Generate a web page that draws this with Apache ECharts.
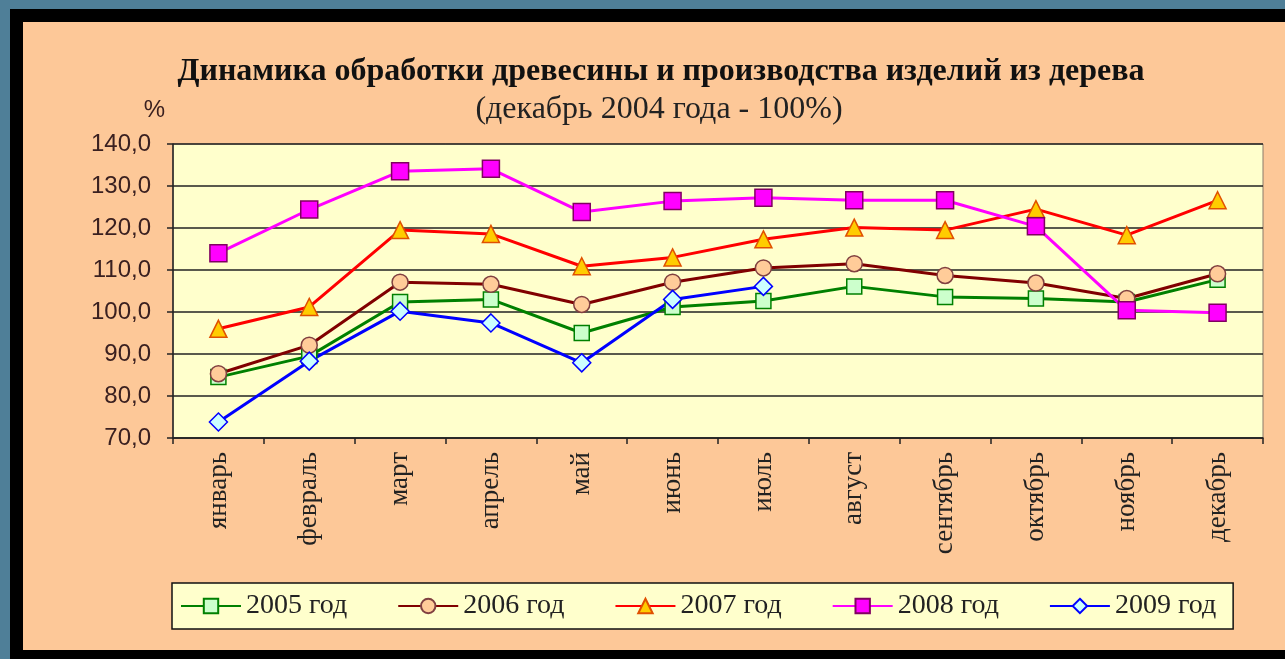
<!DOCTYPE html>
<html>
<head>
<meta charset="utf-8">
<script src="https://cdn.jsdelivr.net/npm/echarts@6/dist/echarts.min.js"></script>
<style>
  html, body { margin: 0; padding: 0; width: 1285px; height: 659px; overflow: hidden; background: #4f7f98; }
  #frame { position: absolute; left: 10px; top: 9px; width: 1275px; height: 650px; background: #000; }
  #panel { position: absolute; left: 23px; top: 22px; width: 1262px; height: 628px; background: #fdc898; }
  #chart { position: absolute; left: 0; top: 0; width: 1285px; height: 659px; }
</style>
</head>
<body>
<div id="frame"></div>
<div id="panel"></div>
<div id="chart"></div>
<script>
const titleText = 'Динамика обработки древесины и производства изделий из дерева';
const subtitleText = '(декабрь 2004 года - 100%)';
const yUnit = '%';
const months = ['январь', 'февраль', 'март', 'апрель', 'май', 'июнь', 'июль', 'август', 'сентябрь', 'октябрь', 'ноябрь', 'декабрь'];
const yTickLabels = ['70,0', '80,0', '90,0', '100,0', '110,0', '120,0', '130,0', '140,0'];
const seriesNames = ['2005 год', '2006 год', '2007 год', '2008 год', '2009 год'];
const y2005 = [84.5, 89.5, 102.4, 103.0, 95.0, 101.2, 102.6, 106.1, 103.6, 103.2, 102.4, 107.7];
const y2006 = [85.3, 92.1, 107.1, 106.6, 101.8, 107.1, 110.5, 111.5, 108.7, 106.9, 103.2, 109.1];
const y2007 = [96.0, 101.2, 119.5, 118.6, 110.9, 113.0, 117.3, 120.1, 119.5, 124.5, 118.3, 126.6];
const y2008 = [114.0, 124.4, 133.5, 134.1, 123.8, 126.4, 127.2, 126.6, 126.6, 120.4, 100.4, 99.8];
const y2009 = [73.8, 88.3, 100.2, 97.4, 87.9, 103.0, 106.1, null, null, null, null, null];

const serif = '"Liberation Serif", "DejaVu Serif", serif';
const sans = '"Liberation Sans", "DejaVu Sans", sans-serif';

function mkSeries(name, data, lineColor, symbol, size, fill, border) {
  return {
    name: name, type: 'line', data: data,
    symbol: symbol, symbolSize: size, showAllSymbol: true,
    lineStyle: { color: lineColor, width: 3 },
    itemStyle: { color: fill, borderColor: border, borderWidth: 1.5 },
    emphasis: { disabled: true },
    animation: false
  };
}

const chart = echarts.init(document.getElementById('chart'), null, { renderer: 'canvas' });
chart.setOption({
  backgroundColor: 'transparent',
  animation: false,
  title: [
    { text: titleText, left: 656, top: 51, textAlign: 'center',
      textStyle: { fontFamily: serif, fontWeight: 'bold', fontSize: 32, color: '#111' } },
    { text: subtitleText, left: 654, top: 89, textAlign: 'center',
      textStyle: { fontFamily: serif, fontWeight: 'normal', fontSize: 32, color: '#222' } }
  ],
  grid: { left: 173, right: 22, top: 144, bottom: 221, show: true, backgroundColor: '#ffffcc', borderColor: '#8a7a6a', borderWidth: 1 },
  legend: {
    left: 172, top: 583,
    backgroundColor: '#ffffcc', borderColor: '#111', borderWidth: 1.5,
    padding: [9, 17, 9, 8],
    itemWidth: 60, itemHeight: 18, itemGap: 50,
    textStyle: { fontFamily: serif, fontSize: 28, color: '#222' },
    data: seriesNames
  },
  xAxis: {
    type: 'category', data: months, boundaryGap: true,
    axisLine: { lineStyle: { color: '#222', width: 1.5 } },
    axisTick: { show: true, length: 6, lineStyle: { color: '#222', width: 1.5 } },
    axisLabel: { rotate: 90, margin: 14, fontFamily: serif, fontSize: 27, color: '#222', interval: 0 },
    splitLine: { show: false }
  },
  yAxis: {
    type: 'value', min: 70, max: 140, interval: 10,
    name: yUnit, nameLocation: 'end', nameGap: 22,
    nameTextStyle: { fontFamily: sans, fontSize: 24, color: '#3a2020', align: 'right', padding: [0, 8, 0, 0] },
    axisLine: { show: true, lineStyle: { color: '#222', width: 1.5 } },
    axisTick: { show: true, inside: false, length: 6, lineStyle: { color: '#222', width: 1.5 } },
    axisLabel: { margin: 22, fontFamily: sans, fontSize: 24, color: '#3a2020',
      formatter: function (v) { return yTickLabels[Math.round((v - 70) / 10)]; } },
    splitLine: { show: true, lineStyle: { color: '#222', width: 1.5 } }
  },
  series: [
    mkSeries(seriesNames[0], y2005, '#008000', 'rect', 15, '#ccffcc', '#008000'),
    mkSeries(seriesNames[1], y2006, '#800000', 'circle', 16, '#ffcc99', '#804040'),
    mkSeries(seriesNames[2], y2007, '#ff0000', 'triangle', 17, '#ffcc00', '#e05000'),
    mkSeries(seriesNames[3], y2008, '#ff00ff', 'rect', 17, '#ff00ff', '#800060'),
    mkSeries(seriesNames[4], y2009, '#0000ff', 'diamond', 18, '#ccffff', '#0000ff')
  ]
});
</script>
</body>
</html>
